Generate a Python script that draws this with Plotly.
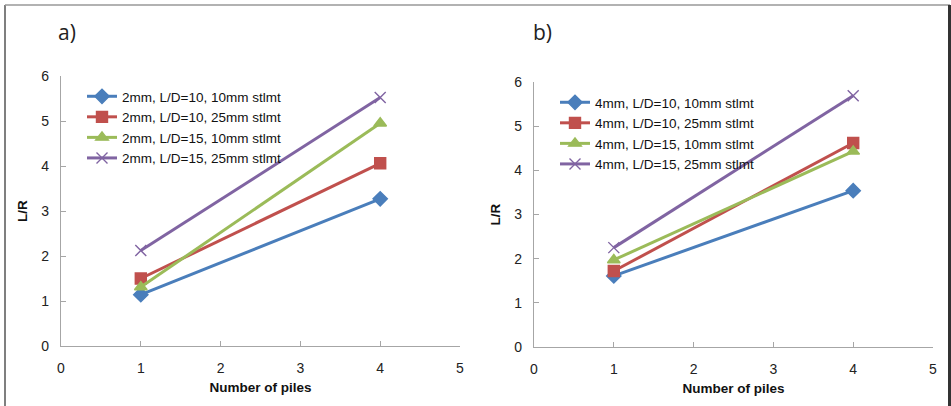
import plotly.graph_objects as go

# Number of piles in each group
piles = [1, 4]

# L/R for 2 mm piles (panel a)
a_names = [
    "2mm, L/D=10, 10mm stlmt",
    "2mm, L/D=10, 25mm stlmt",
    "2mm, L/D=15, 10mm stlmt",
    "2mm, L/D=15, 25mm stlmt",
]
a_values = [
    [1.14, 3.27],
    [1.50, 4.06],
    [1.31, 4.95],
    [2.12, 5.52],
]

# L/R for 4 mm piles (panel b)
b_names = [
    "4mm, L/D=10, 10mm stlmt",
    "4mm, L/D=10, 25mm stlmt",
    "4mm, L/D=15, 10mm stlmt",
    "4mm, L/D=15, 25mm stlmt",
]
b_values = [
    [1.61, 3.54],
    [1.72, 4.62],
    [1.97, 4.43],
    [2.25, 5.69],
]

x_ticks = [0, 1, 2, 3, 4, 5]
y_ticks = [0, 1, 2, 3, 4, 5, 6]

colors = ["#4A7EBB", "#C0504D", "#9BBB59", "#8064A2"]
symbols = ["diamond", "square", "triangle-up", "x-thin"]
sizes = [11, 11, 11, 11]

W, H = 951, 406
FONT = "Liberation Sans, Arial, sans-serif"


def px(x):
    return x / W


def py(y):
    return 1 - y / H


fig = go.Figure()

for panel, (names, values) in enumerate([(a_names, a_values), (b_names, b_values)]):
    xa = "x" if panel == 0 else "x2"
    ya = "y" if panel == 0 else "y2"
    lg = "legend" if panel == 0 else "legend2"
    for i, (name, vals) in enumerate(zip(names, values)):
        fig.add_trace(go.Scatter(
            x=piles, y=vals, name=name, mode="lines+markers",
            xaxis=xa, yaxis=ya, legend=lg,
            line=dict(color=colors[i], width=3),
            marker=dict(symbol=symbols[i], size=sizes[i], color=colors[i],
                        line=dict(color=colors[i], width=1.4)),
        ))

axis_common = dict(
    showgrid=False, zeroline=False, showline=True, linecolor="#A6A6A6",
    linewidth=1.3, ticks="inside", ticklen=5, tickcolor="#A6A6A6",
    tickwidth=1.3, mirror=False, automargin=False,
    tickfont=dict(family=FONT, size=14, color="#222"),
)

x_title = dict(text="<b>Number of piles</b>",
               font=dict(family=FONT, size=13.5, color="#111"), standoff=7)
y_title = dict(text="<b>L/R</b>",
               font=dict(family=FONT, size=13.5, color="#111"), standoff=10)

fig.update_layout(
    width=W, height=H,
    margin=dict(l=0, r=0, t=0, b=0),
    paper_bgcolor="white", plot_bgcolor="white",
    showlegend=True,
    xaxis=dict(domain=[px(61), px(460)], range=[0, 5], tickvals=x_ticks,
               anchor="y", title=x_title, ticklabelstandoff=9, **axis_common),
    yaxis=dict(domain=[py(346), py(76)], range=[0, 6], tickvals=y_ticks,
               anchor="x", title=y_title, ticklabelstandoff=8, **axis_common),
    xaxis2=dict(domain=[px(534), px(933)], range=[0, 5], tickvals=x_ticks,
                anchor="y2", title=x_title, ticklabelstandoff=9, **axis_common),
    yaxis2=dict(domain=[py(347), py(82)], range=[0, 6], tickvals=y_ticks,
                anchor="x2", title=y_title, ticklabelstandoff=8, **axis_common),
    legend=dict(x=px(82), y=py(81), xanchor="left", yanchor="top",
                bgcolor="rgba(0,0,0,0)", itemwidth=30,
                font=dict(family=FONT, size=13.5, color="#111"),
                tracegroupgap=0),
    legend2=dict(x=px(555), y=py(87), xanchor="left", yanchor="top",
                 bgcolor="rgba(0,0,0,0)", itemwidth=30,
                 font=dict(family=FONT, size=13.5, color="#111"),
                 tracegroupgap=0),
)

# Panel labels
for label, xc in [("a)", 67), ("b)", 542)]:
    fig.add_annotation(text=label, x=px(xc), y=py(32), xref="paper", yref="paper",
                       showarrow=False, xanchor="center", yanchor="middle",
                       font=dict(family="Open Sans, sans-serif", size=21, color="#222"))

# Frame around the figure
fig.add_shape(type="line", xref="paper", yref="paper",
              x0=px(5), x1=px(5), y0=py(5), y1=py(410),
              line=dict(color="#555", width=1.5))
fig.add_shape(type="line", xref="paper", yref="paper",
              x0=px(5), x1=px(950), y0=py(5), y1=py(5),
              line=dict(color="#999", width=1.5))
fig.add_shape(type="line", xref="paper", yref="paper",
              x0=px(949.5), x1=px(949.5), y0=py(5), y1=py(410),
              line=dict(color="#333", width=3))

fig.write_html("out.html")
